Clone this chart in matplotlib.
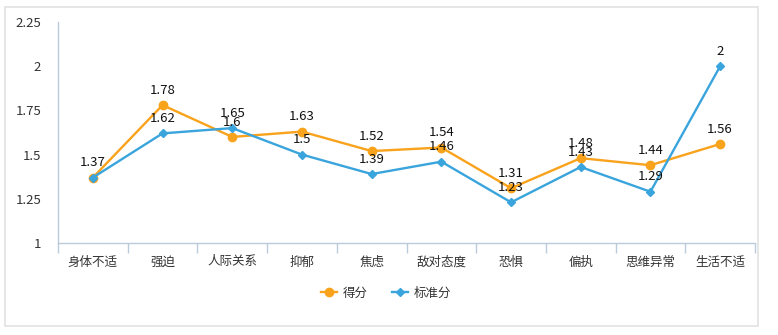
import matplotlib
matplotlib.use('agg')
import matplotlib.pyplot as plt
from matplotlib.patches import Rectangle
import numpy as np

plt.rcParams['font.family'] = ['Noto Sans CJK SC', 'DejaVu Sans']

categories = ['身体不适', '强迫', '人际关系', '抑郁', '焦虑', '敌对态度', '恐惧', '偏执', '思维异常', '生活不适']
scores = [1.37, 1.78, 1.6, 1.63, 1.52, 1.54, 1.31, 1.48, 1.44, 1.56]
std_scores = [1.37, 1.62, 1.65, 1.5, 1.39, 1.46, 1.23, 1.43, 1.29, 2.0]
yticks = [1, 1.25, 1.5, 1.75, 2, 2.25]
ytick_labels = ['1', '1.25', '1.5', '1.75', '2', '2.25']

orange = '#f9a21b'
blue = '#3aa4dc'
axis_col = '#bccbdc'

fig = plt.figure(figsize=(7.78, 3.35), dpi=100)
fig.patches.append(Rectangle((5 / 778, 1 - 326 / 335), 753 / 778, 319 / 335,
                             transform=fig.transFigure, fill=False,
                             edgecolor='#e2e2e2', linewidth=1.2))

ax = fig.add_axes([58 / 778, 1 - 243 / 335, 697 / 778, 221 / 335])
x = np.arange(len(categories))

ax.plot(x, scores, color=orange, linewidth=1.7, marker='o', markersize=6, label='得分', zorder=3)
ax.plot(x, std_scores, color=blue, linewidth=1.7, marker='D', markersize=4, label='标准分', zorder=3)

# labels above every point (the first std label sits on top of the score one)
for xi, v in zip(x, scores):
    ax.annotate(f'{v:g}', (xi, v), xytext=(0, 6), textcoords='offset points',
                ha='center', va='bottom', fontsize=9.5, color='#111111', zorder=4)
for xi, v in zip(x[1:], std_scores[1:]):
    ax.annotate(f'{v:g}', (xi, v), xytext=(0, 6), textcoords='offset points',
                ha='center', va='bottom', fontsize=9.5, color='#111111', zorder=4)

ax.set_xlim(-0.5, len(categories) - 0.5)
ax.set_ylim(1, 2.25)
ax.set_yticks(yticks)
ax.set_yticklabels(ytick_labels)
ax.set_xticks(x)
ax.set_xticklabels(categories)
ax.set_xticks(np.arange(-0.5, len(categories)), minor=True)
ax.tick_params(axis='x', which='major', length=0, pad=9, labelsize=9, labelcolor='#333333')
ax.tick_params(axis='x', which='minor', length=7, width=1, color=axis_col)
ax.tick_params(axis='y', length=0, pad=12, labelsize=9.5, labelcolor='#333333')

for s in ['top', 'right']:
    ax.spines[s].set_visible(False)
for s in ['left', 'bottom']:
    ax.spines[s].set_color(axis_col)
    ax.spines[s].set_linewidth(1)

fig.legend(loc='center', bbox_to_anchor=(386 / 778, 1 - 293 / 335), ncol=2,
           frameon=False, fontsize=9, handlelength=1.3, columnspacing=1.9,
           handletextpad=0.45, labelcolor='#333333')

plt.savefig('out.png', dpi=100)
